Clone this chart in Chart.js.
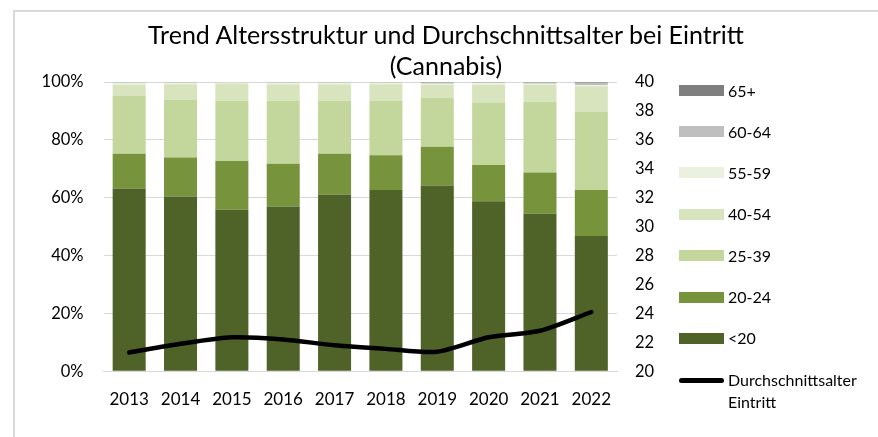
<!DOCTYPE html>
<html><head><meta charset="utf-8">
<script src="https://cdn.jsdelivr.net/npm/chart.js@4/dist/chart.umd.min.js"></script>
<style>
html,body{margin:0;padding:0;background:#fff;}
#wrap{position:relative;width:878px;height:437px;overflow:hidden;font-family:Lato,'Open Sans',sans-serif;color:#000;}
#frame{position:absolute;left:13px;top:10px;width:900px;height:500px;border-left:2px solid #d9d9d9;border-top:2px solid #d9d9d9;}
#c{position:absolute;left:0;top:0;}
#title{position:absolute;left:0;width:892px;top:19px;text-align:center;font-size:25px;line-height:31px;color:#000;}
.lg{position:absolute;left:679px;height:0;}
.lg .box{position:absolute;left:0;top:-5.5px;width:45px;height:11px;}
.lg .ln{position:absolute;left:0;top:-2.5px;width:45px;height:5px;background:#000;border-radius:3px;}
.lg .tx{position:absolute;left:49px;top:-10px;font-size:16px;line-height:20px;white-space:nowrap;}
</style></head>
<body>
<div id="wrap">
<div id="frame"></div>
<canvas id="c" width="878" height="437"></canvas>
<div id="title">Trend Altersstruktur und Durchschnittsalter bei Eintritt<br>(Cannabis)</div>
<div id="legend"></div>
</div>
<script>
const years = ['2013','2014','2015','2016','2017','2018','2019','2020','2021','2022'];
const ageGroups = ['<20','20-24','25-39','40-54','55-59','60-64','65+'];
const lt20   = [63.2,60.4,55.8,57.0,61.1,62.7,64.2,58.8,54.5,46.8];
const a20_24 = [12.0,13.5,16.9,14.7,14.1,12.0,13.4,12.5,14.2,15.9];
const a25_39 = [20.0,19.9,20.8,21.8,18.3,18.7,16.9,21.6,24.5,27.1];
const a40_54 = [3.8,5.4,6.0,5.6,5.6,5.8,4.5,6.1,5.8,8.7];
const a55_59 = [0.7,0.5,0.3,0.6,0.6,0.5,0.4,0.6,0.4,0.5];
const a60_64 = [0.2,0.2,0.1,0.2,0.2,0.2,0.4,0.3,0.4,0.7];
const a65p   = [0.1,0.1,0.1,0.1,0.1,0.1,0.2,0.1,0.2,0.3];
const avgAge = [21.3,21.9,22.35,22.2,21.8,21.55,21.35,22.35,22.8,24.1];
const lineLabel = 'Durchschnittsalter Eintritt';
const pctTicks = [0,20,40,60,80,100];
const ageTicks = [20,22,24,26,28,30,32,34,36,38,40];

const groupValues = [lt20,a20_24,a25_39,a40_54,a55_59,a60_64,a65p];
const groupColors = ['#4F6228','#77933C','#C3D69B','#D7E4BD','#EBF1DE','#BFBFBF','#7F7F7F'];

const datasets = ageGroups.map((g,i)=>({
  type:'bar', label:g, data:groupValues[i], backgroundColor:groupColors[i],
  borderWidth:0, yAxisID:'y', order:1, stack:'s',
  categoryPercentage:1.0, barPercentage:0.643
}));
datasets.push({
  type:'line', label:lineLabel, data:avgAge, borderColor:'#000', backgroundColor:'#000',
  borderWidth:4.5, pointRadius:0, tension:0.25, yAxisID:'y1', order:0,
  borderCapStyle:'round', borderJoinStyle:'round'
});

const FONT = {family:"Lato, 'Open Sans', sans-serif", size:16.5};
const XFONT = {family:"Lato, 'Open Sans', sans-serif", size:17};
new Chart(document.getElementById('c'), {
  data:{labels:years, datasets},
  options:{
    responsive:false, animation:false, devicePixelRatio:1,
    layout:{padding:{top:82,left:0,right:0,bottom:0}},
    plugins:{legend:{display:false}, title:{display:false}, tooltip:{enabled:false}},
    scales:{
      x:{stacked:true, grid:{display:false, drawTicks:false}, border:{display:true,color:'#D9D9D9'},
         ticks:{color:'#000', font:XFONT, padding:18, maxRotation:0},
         afterFit:(s)=>{s.height=65.7;}},
      y:{stacked:true, position:'left', min:0, max:100,
         afterBuildTicks:(s)=>{s.ticks=pctTicks.map(v=>({value:v}));},
         grid:{color:'#D9D9D9', lineWidth:1, drawTicks:false}, border:{display:false},
         ticks:{color:'#000', font:FONT, padding:20, callback:(v)=>v+'%'},
         afterFit:(s)=>{s.width=103.5;}},
      y1:{position:'right', min:20, max:40,
         afterBuildTicks:(s)=>{s.ticks=ageTicks.map(v=>({value:v}));},
         grid:{display:false, drawTicks:false}, border:{display:false},
         ticks:{color:'#000', font:FONT, padding:18},
         afterFit:(s)=>{s.width=261;}}
    }
  }
});

// legend (HTML, real text)
const lg = document.getElementById('legend');
const centers = [338.3,297.3,255.7,214,172.7,131.7,90.7];
ageGroups.forEach((g,i)=>{
  const d=document.createElement('div'); d.className='lg'; d.style.top=centers[i]+'px';
  const b=document.createElement('div'); b.className='box'; b.style.background=groupColors[i];
  const t=document.createElement('div'); t.className='tx'; t.textContent=g;
  d.appendChild(b); d.appendChild(t); lg.appendChild(d);
});
{
  const d=document.createElement('div'); d.className='lg'; d.style.top='380px';
  const b=document.createElement('div'); b.className='ln';
  const t=document.createElement('div'); t.className='tx'; t.style.lineHeight='22px'; t.style.top='-11px';
  const parts=lineLabel.split(' ');
  t.appendChild(document.createTextNode(parts[0])); t.appendChild(document.createElement('br')); t.appendChild(document.createTextNode(parts[1]));
  d.appendChild(b); d.appendChild(t); lg.appendChild(d);
}
</script>
</body></html>
